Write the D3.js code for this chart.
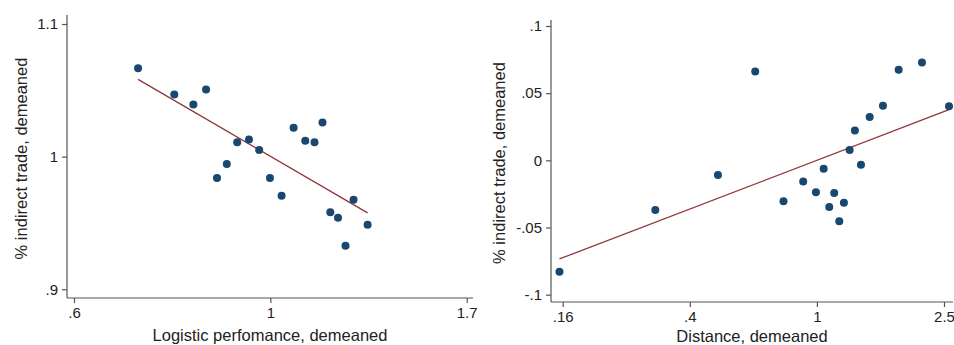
<!DOCTYPE html>
<html>
<head>
<meta charset="utf-8">
<script src="https://cdn.jsdelivr.net/npm/d3@7"></script>
<style>
  body { margin: 0; background: #fff; }
  text { font-family: "Liberation Sans", Arial, sans-serif; fill: #222; }
</style>
</head>
<body>
<div id="container"></div>
<script>
// left panel: logistic performance vs % indirect trade (ratios, log axes)
const lpiX = [0.714, 0.783, 0.822, 0.849, 0.873, 0.895, 0.919, 0.947, 0.972, 0.999,
  1.029, 1.061, 1.093, 1.119, 1.142, 1.165, 1.188, 1.211, 1.236, 1.281];
const lpiY = [1.069, 1.048, 1.040, 1.052, 0.984, 0.9945, 1.011, 1.013, 1.005, 0.984,
  0.971, 1.022, 1.012, 1.011, 1.026, 0.959, 0.955, 0.935, 0.968, 0.950];
const lpiFitX = [0.714, 1.281];
const lpiFitY = [1.060, 0.9585];
const lpiXTicks = [Math.exp(-0.5), 1, Math.exp(0.5)];
const lpiXLabels = [".6", "1", "1.7"];
const lpiYTicks = [Math.exp(-0.1), 1, Math.exp(0.1)];
const lpiYLabels = [".9", "1", "1.1"];

// right panel: distance vs % indirect trade
const distX = [0.1563, 0.312, 0.490, 0.641, 0.786, 0.906, 0.993, 1.050, 1.093, 1.133,
  1.175, 1.215, 1.266, 1.315, 1.374, 1.463, 1.610, 1.803, 2.133, 2.592];
const distY = [-0.0830, -0.0369, -0.0109, 0.0662, -0.0305, -0.0158, -0.0238, -0.0062, -0.0347, -0.0243,
  -0.0454, -0.0315, 0.0077, 0.0223, -0.0032, 0.0323, 0.0407, 0.0675, 0.0729, 0.0402];
const distFitX = [0.1563, 2.592];
const distFitY = [-0.0734, 0.0377];
const distXTicks = [0.16, 0.4, 1, 2.5];
const distXLabels = [".16", ".4", "1", "2.5"];
const distYTicks = [-0.1, -0.05, 0, 0.05, 0.1];
const distYLabels = ["-.1", "-.05", "0", ".05", ".1"];

const width = 954;
const height = 345;
const dotColor = "#1a476f";
const fitColor = "#90353b";
const axisColor = "#555";

const svg = d3
  .select("#container")
  .append("svg")
  .attr("width", width)
  .attr("height", height);

function panel(opts) {
  const g = svg.append("g");
  const { x, y, box } = opts;

  // axis lines
  g.append("line")
    .attr("x1", box.left).attr("x2", box.left)
    .attr("y1", box.top).attr("y2", box.bottom)
    .attr("stroke", axisColor).attr("stroke-width", 1.2);
  g.append("line")
    .attr("x1", box.left).attr("x2", box.right)
    .attr("y1", box.bottom).attr("y2", box.bottom)
    .attr("stroke", axisColor).attr("stroke-width", 1.2);

  const xAxis = d3.axisBottom(x)
    .tickValues(opts.xTicks)
    .tickFormat((d, i) => opts.xLabels[i])
    .tickSize(5)
    .tickPadding(4);
  const xg = g.append("g")
    .attr("transform", `translate(0,${box.bottom})`)
    .call(xAxis);
  xg.select(".domain").remove();

  const yAxis = d3.axisLeft(y)
    .tickValues(opts.yTicks)
    .tickFormat((d, i) => opts.yLabels[i])
    .tickSize(5)
    .tickPadding(4);
  const yg = g.append("g")
    .attr("transform", `translate(${box.left},0)`)
    .call(yAxis);
  yg.select(".domain").remove();

  g.selectAll(".tick line").attr("stroke", axisColor).attr("stroke-width", 1.2);
  g.selectAll(".tick text")
    .attr("font-size", 15)
    .attr("font-family", "Liberation Sans, Arial, sans-serif")
    .attr("fill", "#222");

  // fitted line
  g.append("path")
    .datum(d3.zip(opts.fitX, opts.fitY))
    .attr("fill", "none")
    .attr("stroke", fitColor)
    .attr("stroke-width", 1.3)
    .attr("d", d3.line().x((d) => x(d[0])).y((d) => y(d[1])));

  // points
  g.selectAll("circle")
    .data(d3.zip(opts.dataX, opts.dataY))
    .join("circle")
    .attr("cx", (d) => x(d[0]))
    .attr("cy", (d) => y(d[1]))
    .attr("r", 4)
    .attr("fill", dotColor);

  // titles
  g.append("text")
    .attr("x", (box.left + box.right) / 2)
    .attr("y", opts.xTitleY)
    .attr("text-anchor", "middle")
    .attr("font-size", 16.5)
    .text(opts.xTitle);
  g.append("text")
    .attr("transform", `translate(${opts.yTitleX},${(box.top + box.bottom) / 2 + 2}) rotate(-90)`)
    .attr("text-anchor", "middle")
    .attr("font-size", 16.5)
    .text(opts.yTitle);
}

panel({
  box: { left: 67, right: 473, top: 15, bottom: 298 },
  x: d3.scaleLog().domain([lpiXTicks[0], lpiXTicks[2]]).range([74, 466.7]),
  y: d3.scaleLog().domain([lpiYTicks[0], lpiYTicks[2]]).range([289.3, 24]),
  xTicks: lpiXTicks, xLabels: lpiXLabels,
  yTicks: lpiYTicks, yLabels: lpiYLabels,
  dataX: lpiX, dataY: lpiY,
  fitX: lpiFitX, fitY: lpiFitY,
  xTitle: "Logistic perfomance, demeaned",
  yTitle: "% indirect trade, demeaned",
  xTitleY: 341,
  yTitleX: 27,
});

panel({
  box: { left: 551, right: 953, top: 20, bottom: 302 },
  x: d3.scaleLog().domain([distXTicks[0], distXTicks[3]]).range([562.7, 944]),
  y: d3.scaleLinear().domain([-0.1, 0.1]).range([294.7, 26]),
  xTicks: distXTicks, xLabels: distXLabels,
  yTicks: distYTicks, yLabels: distYLabels,
  dataX: distX, dataY: distY,
  fitX: distFitX, fitY: distFitY,
  xTitle: "Distance, demeaned",
  yTitle: "% indirect trade, demeaned",
  xTitleY: 342,
  yTitleX: 505,
});
</script>
</body>
</html>
